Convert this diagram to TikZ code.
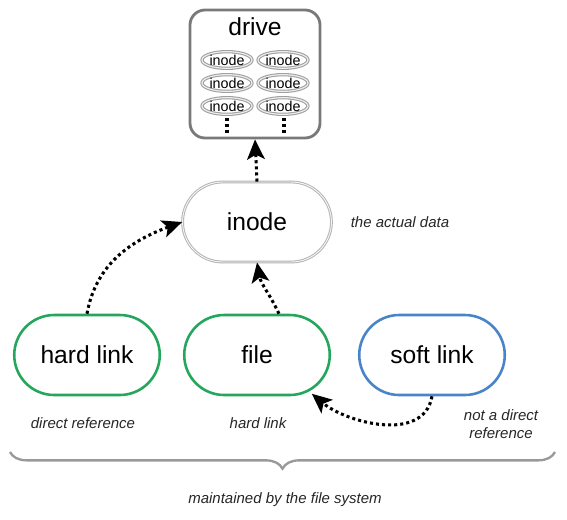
\documentclass[tikz,border=0pt]{standalone}
\usepackage{fontspec}
\setmainfont{Liberation Sans}
\usetikzlibrary{arrows.meta,shapes.geometric,shapes.misc,decorations.pathreplacing}

\definecolor{linkgreen}{RGB}{36,166,92}
\definecolor{linkblue}{RGB}{74,132,200}

\begin{document}
\begin{tikzpicture}[
    x=0.03cm, y=-0.03cm,
    text=black,
    >={Stealth[length=17pt, width=15pt, inset=4pt]},
    bigtext/.style={font=\fontsize{21}{25}\selectfont},
    note/.style={font=\fontsize{12.8}{15}\selectfont\itshape, text=black!85},
    pill/.style={rounded rectangle, minimum width=4.6cm, minimum height=2.4cm, line width=2.2pt, fill=white, bigtext},
    smallinode/.style={ellipse, draw=gray!75, double=gray!15, double distance=1pt, line width=0.9pt, minimum width=1.5cm, minimum height=0.5cm, inner sep=0pt, font=\fontsize{12.2}{14}\selectfont},
    dotline/.style={->, line width=2.6pt, dash pattern=on 2.6pt off 2.6pt},
]

% ==================== DRIVE ====================
\useasboundingbox (0,0) rectangle (567,519);

\node[draw=gray!95!black, line width=2.4pt, rounded corners=0.45cm, minimum width=3.9cm, minimum height=3.84cm] (drive) at (255,74) {};
\node[bigtext] (drive_label) at (255,27) {drive};

% inodes stored on the drive
\node[smallinode] (d_inode_l1) at (227,60) {inode};
\node[smallinode] (d_inode_r1) at (283,60) {inode};
\node[smallinode] (d_inode_l2) at (227,83) {inode};
\node[smallinode] (d_inode_r2) at (283,83) {inode};
\node[smallinode] (d_inode_l3) at (227,106) {inode};
\node[smallinode] (d_inode_r3) at (283,106) {inode};

% more of them
\coordinate (dots_l_top) at (227,118);
\coordinate (dots_l_bot) at (227,134);
\coordinate (dots_r_top) at (284,118);
\coordinate (dots_r_bot) at (284,134);
\draw[dotline, -] (dots_l_top) -- (dots_l_bot);
\draw[dotline, -] (dots_r_top) -- (dots_r_bot);

% ==================== INODE ====================
\node[pill, minimum width=4.7cm, draw=gray!60, double=gray!8, double distance=0.8pt, line width=0.8pt] (inode) at (257,222) {inode};
\node[note] (inode_note) at (400,222) {the actual data};

\draw[dotline] (inode.north) -- (drive.south);

% ==================== LINKS ====================
\node[pill, draw=linkgreen] (hard_link) at (87,355) {hard link};
\node[pill, draw=linkgreen] (file) at (257,355) {file};
\node[pill, draw=linkblue] (soft_link) at (432,355) {soft link};

\node[note] (hard_note) at (83,423) {direct reference};
\node[note] (file_note) at (258,423) {hard link};
\node[note, align=center] (soft_note) at (501,424) {not a direct\\reference};

% Arched lines to the targets
\draw[dotline] (hard_link.north) to[out=80, in=200] (inode.west);
\draw[dotline] (file.62) to[out=115, in=-80] (inode.south);
\draw[dotline, shorten >=3pt] (soft_link.south) to[out=-100, in=-40] (file.-35);

% ==================== FILE SYSTEM ====================
\coordinate (brace_l) at (10,452);
\coordinate (brace_r) at (555,452);
\draw[gray!80, line width=2pt, decorate, decoration={brace, mirror, amplitude=0.5cm}] (brace_l) -- (brace_r);
\node[note] (fs_note) at (285,500) {maintained by the file system};

\end{tikzpicture}
\end{document}
